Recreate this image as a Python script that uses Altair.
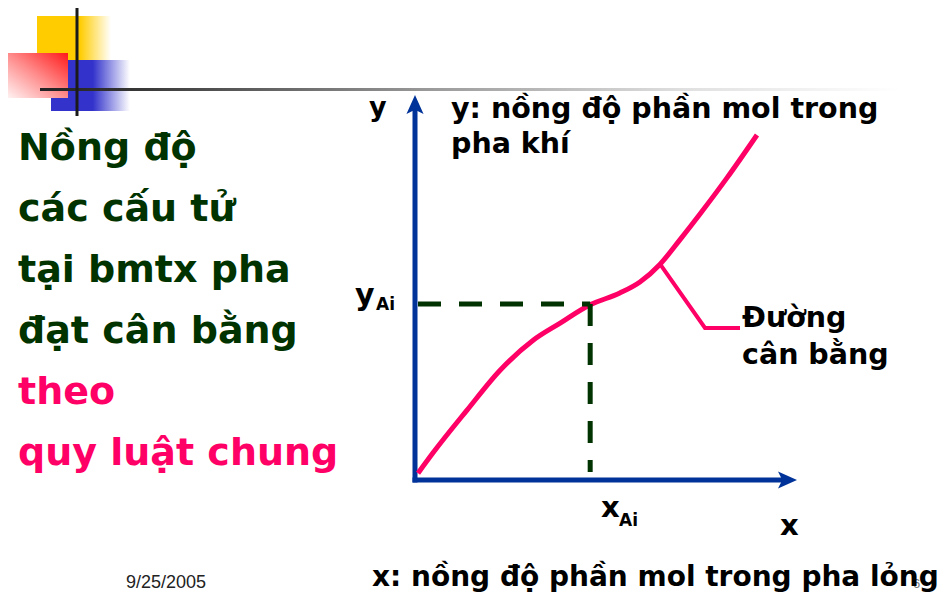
import altair as alt
import pandas as pd

# ---------------- data ----------------
# equilibrium curve (x: mole fraction in liquid, y: mole fraction in gas), in axis units
curve_x = [0.008, 0.047, 0.137, 0.224, 0.311, 0.382, 0.461, 0.539, 0.592, 0.645, 0.697, 0.750, 0.821, 0.900]
curve_y = [0.018, 0.071, 0.184, 0.289, 0.368, 0.413, 0.461, 0.492, 0.521, 0.568, 0.632, 0.700, 0.795, 0.908]
x_ai = 0.461
y_ai = 0.463

left_lines = ["Nồng độ", "các cấu tử", "tại bmtx pha", "đạt cân bằng", "theo", "quy luật chung"]
left_colors = ["#003300", "#003300", "#003300", "#003300", "#FF0066", "#FF0066"]
y_desc = ["y: nồng độ phần mol trong", "pha khí"]
x_desc = "x: nồng độ phần mol trong pha lỏng"
curve_label = ["Đường", "cân bằng"]
date_label = "9/25/2005"

# ---------------- layout helpers ----------------
W, H = 935, 586
OX, OY, K = 415, 480, 380  # page pixel of axis origin, pixels per unit


def ux(p):
    return (p - OX) / K


def uy(p):
    return (OY - p) / K


xs = alt.Scale(domain=[ux(8), ux(8 + W)], nice=False, zero=False, padding=0)
ys = alt.Scale(domain=[uy(8 + H), uy(8)], nice=False, zero=False, padding=0)

PINK = "#FF0066"
BLUE = "#003399"
DKGREEN = "#003300"
FONT = "DejaVu Sans"

layers = []


def grad(stops, x1=0, y1=0, x2=1, y2=0):
    return alt.Gradient(
        gradient="linear",
        stops=[alt.GradientStop(color=c, offset=o) for o, c in stops],
        x1=x1, y1=y1, x2=x2, y2=y2,
    )


def rect(x1, y1, x2, y2, fill):
    return alt.Chart(pd.DataFrame({"a": [0]})).mark_rect(fill=fill, strokeWidth=0).encode(
        x=alt.value(x1 - 8), x2=alt.value(x2 - 8), y=alt.value(y1 - 8), y2=alt.value(y2 - 8)
    )


def txt(s, px, py, size, color="#000000", weight="bold", font=FONT):
    return alt.Chart(pd.DataFrame({"t": [s]})).mark_text(
        align="left", baseline="alphabetic", fontSize=size, fontWeight=weight,
        font=font, color=color
    ).encode(text="t:N", x=alt.value(px - 8), y=alt.value(py - 8))


# ---------------- slide decoration ----------------
layers.append(rect(37, 16, 111, 61, grad([(0, "#FFCC00"), (0.58, "#FFCC00"), (1, "#FFFFFF")])))
layers.append(rect(51, 60, 130, 111, grad([(0, "#3333CC"), (0.53, "#3333CC"), (1, "#FFFFFF")])))
layers.append(rect(7, 53, 68, 98, grad([(0, "#FF1A1A"), (0.5, "#FF8C8C"), (1, "#FFF4F4")], x1=1, y1=0, x2=0, y2=1)))
layers.append(rect(40, 88, 900, 91, grad([(0, "#222222"), (0.1, "#333333"), (0.45, "#999999"), (0.75, "#E0E0E0"), (1, "#FFFFFF")])))
layers.append(rect(75.5, 5, 78.5, 116, "#1A1A1A"))

# ---------------- left text ----------------
for i, (line, col) in enumerate(zip(left_lines, left_colors)):
    layers.append(txt(line, 18, 160 + i * 61, 38, color=col))

# ---------------- axes ----------------
xaxis_df = pd.DataFrame({"x": [ux(412.5)], "x2": [ux(785)], "y": [0.0]})
yaxis_df = pd.DataFrame({"x": [0.0], "y": [uy(482.5)], "y2": [uy(107)]})
layers.append(alt.Chart(xaxis_df).mark_rule(color=BLUE, strokeWidth=5).encode(
    x=alt.X("x:Q", scale=xs, axis=None), x2="x2:Q", y=alt.Y("y:Q", scale=ys, axis=None)))
layers.append(alt.Chart(yaxis_df).mark_rule(color=BLUE, strokeWidth=5).encode(
    x=alt.X("x:Q", scale=xs, axis=None), y=alt.Y("y:Q", scale=ys, axis=None), y2="y2:Q"))

arrow_r = "M1,0L-1,-0.9L-0.55,0L-1,0.9Z"
arrow_u = "M0,-1L-0.9,1L0,0.55L0.9,1Z"
layers.append(alt.Chart(pd.DataFrame({"x": [ux(787.5)], "y": [0.0]})).mark_point(
    shape=arrow_r, filled=True, size=361, color=BLUE, opacity=1, strokeWidth=0).encode(
    x=alt.X("x:Q", scale=xs, axis=None), y=alt.Y("y:Q", scale=ys, axis=None)))
layers.append(alt.Chart(pd.DataFrame({"x": [0.0], "y": [uy(104.5)]})).mark_point(
    shape=arrow_u, filled=True, size=361, color=BLUE, opacity=1, strokeWidth=0).encode(
    x=alt.X("x:Q", scale=xs, axis=None), y=alt.Y("y:Q", scale=ys, axis=None)))

# ---------------- curve ----------------
curve_df = pd.DataFrame({"x": curve_x, "y": curve_y})
layers.append(alt.Chart(curve_df).mark_line(color=PINK, strokeWidth=5, interpolate="monotone").encode(
    x=alt.X("x:Q", scale=xs, axis=None), y=alt.Y("y:Q", scale=ys, axis=None)))

# leader line to the label
leader_df = pd.DataFrame({"x": [curve_x[9], ux(705), ux(740)], "y": [curve_y[9], uy(328), uy(328)], "o": [0, 1, 2]})
layers.append(alt.Chart(leader_df).mark_line(color=PINK, strokeWidth=4).encode(
    x=alt.X("x:Q", scale=xs, axis=None), y=alt.Y("y:Q", scale=ys, axis=None), order="o:Q"))

# ---------------- dashed projections ----------------
hd = pd.DataFrame({"x": [ux(418)], "x2": [x_ai], "y": [y_ai]})
vd = pd.DataFrame({"x": [x_ai], "y": [y_ai], "y2": [uy(472)]})
layers.append(alt.Chart(hd).mark_rule(color=DKGREEN, strokeWidth=5, strokeDash=[23, 18]).encode(
    x=alt.X("x:Q", scale=xs, axis=None), x2="x2:Q", y=alt.Y("y:Q", scale=ys, axis=None)))
layers.append(alt.Chart(vd).mark_rule(color=DKGREEN, strokeWidth=5, strokeDash=[22, 17]).encode(
    x=alt.X("x:Q", scale=xs, axis=None), y=alt.Y("y:Q", scale=ys, axis=None), y2="y2:Q"))

# ---------------- labels ----------------
layers.append(txt("y", 369, 116, 27))
layers.append(txt("x", 780, 535, 29))
layers.append(txt("y", 355, 305, 30))
layers.append(txt("Ai", 376, 310, 17))
layers.append(txt("x", 601, 517, 29))
layers.append(txt("Ai", 619, 526, 17))
layers.append(txt(y_desc[0], 451, 118, 28.5))
layers.append(txt(y_desc[1], 451, 153, 28.5))
layers.append(txt(curve_label[0], 742, 327, 28.5))
layers.append(txt(curve_label[1], 742, 364, 28.5))
layers.append(txt("6", 913, 588, 13, color="#777777", weight="normal", font="Liberation Sans"))
layers.append(txt(x_desc, 372, 586, 28))
layers.append(txt(date_label, 126, 588, 18, color="#222222", weight="normal", font="Liberation Sans"))

chart = alt.layer(*layers).properties(
    width=W, height=H, padding=0, autosize="none", background="white"
).configure_view(stroke=None)

chart.save("out.html", embed_options={"renderer": "svg", "actions": False})
